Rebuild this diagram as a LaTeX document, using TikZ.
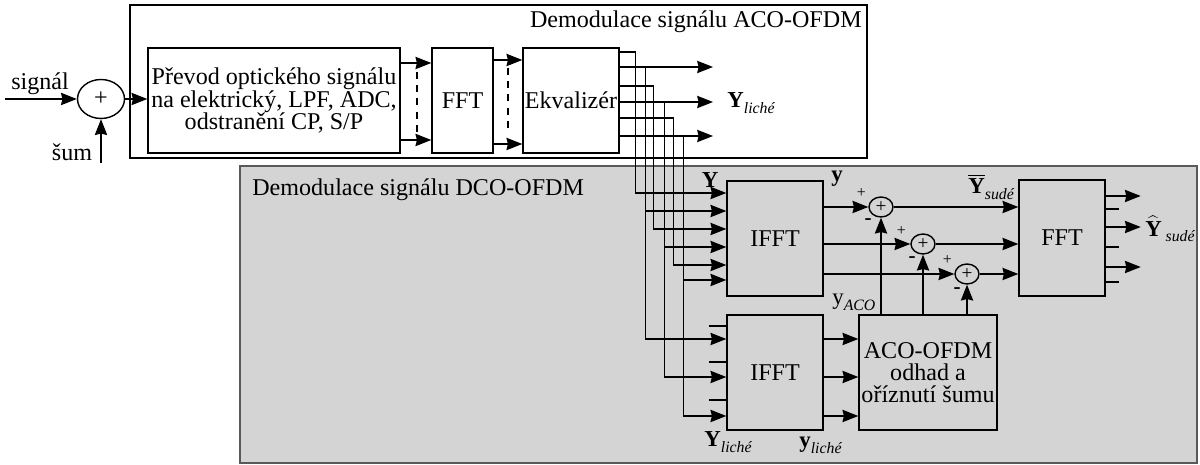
\documentclass[tikz,border=0pt]{standalone}
\usepackage{fontspec}
\setmainfont{Liberation Serif}
\usetikzlibrary{arrows.meta, positioning, shapes.geometric}
\definecolor{panelgray}{RGB}{212,212,212}
\newcommand{\subtxt}[1]{\raisebox{-0.55ex}{\fontsize{9}{9}\selectfont\itshape #1}}

\begin{document}
\begin{tikzpicture}[
    x=0.02cm, y=-0.02cm,
    font=\fontsize{13.7}{12.6}\selectfont,
    block/.style={rectangle, draw, line width=0.8pt, fill=#1, align=center, inner sep=1pt},
    block/.default=white,
    panel/.style={rectangle, draw=#1, line width=0.8pt, inner sep=0pt},
    sumnode/.style={ellipse, draw, line width=0.8pt, fill=#1, inner sep=0pt},
    arrow/.style={-{Stealth[length=9pt, width=7pt, inset=0.8pt]}, line width=0.8pt},
    wire/.style={line width=0.8pt},
    dline/.style={line width=0.8pt, dash pattern=on 4pt off 3.5pt},
    lbl/.style={inner sep=0pt, font=\fontsize{13}{13}\selectfont},
    txt/.style={inner sep=0pt},
    sign/.style={inner sep=0pt, font=\fontsize{9}{9}\selectfont},
    minus/.style={inner sep=0pt, font=\fontsize{12}{12}\selectfont\bfseries}
]
\useasboundingbox (0,0) rectangle (1200,465);

% Frames
\node[panel=black, fill=white, minimum width=14.74cm, minimum height=3.06cm] (acofr) at (498.5,81.5) {};
\node[panel=gray!70!black, fill=panelgray, minimum width=19.14cm, minimum height=5.94cm] (dcofr) at (718.5,314.5) {};
\node[txt, anchor=east] (acott) at (862,22) {Demodulace signálu ACO-OFDM};
\node[txt, anchor=west] (dcott) at (252,190) {Demodulace signálu DCO-OFDM};

% ACO-OFDM receiver
\node[sumnode=white, minimum width=0.94cm, minimum height=0.78cm] (sum) at (101,99) {+};
\node[block, minimum width=5.04cm, minimum height=2.1cm] (conv) at (274,100.5) {Převod optického signálu\\na elektrický, LPF, ADC,\\odstranění CP, S/P};
\node[block, minimum width=1.22cm, minimum height=2.1cm] (fft) at (462.5,100.5) {FFT};
\node[block, minimum width=1.92cm, minimum height=2.1cm] (ekv) at (571,100.5) {Ekvalizér};

% DCO-OFDM receiver
\node[block=panelgray, minimum width=1.92cm, minimum height=2.3cm] (ifftA) at (775,238.5) {IFFT};
\node[block=panelgray, minimum width=1.92cm, minimum height=2.3cm] (ifftB) at (775,372.5) {IFFT};
\node[block=panelgray, minimum width=2.76cm, minimum height=2.3cm] (est) at (928,372.5) {ACO-OFDM\\odhad a\\oříznutí šumu};
\node[block=panelgray, minimum width=1.72cm, minimum height=2.32cm] (fftB) at (1062,238) {FFT};
\node[sumnode=panelgray, minimum width=0.48cm, minimum height=0.4cm, font=\fontsize{11}{11}\selectfont] (s1) at (881,207) {+};
\node[sumnode=panelgray, minimum width=0.48cm, minimum height=0.4cm, font=\fontsize{11}{11}\selectfont] (s2) at (923,244) {+};
\node[sumnode=panelgray, minimum width=0.48cm, minimum height=0.4cm, font=\fontsize{11}{11}\selectfont] (s3) at (967,274) {+};

% input
\coordinate (sigin) at (5,99);
\coordinate (noisein) at (101,163);
\draw[arrow] (sigin) -- (sum.west);
\draw[arrow] (noisein) -- (sum.south);
\node[txt] (lsig) at (40,84) {signál};
\node[txt] (lnoise) at (72,152) {šum};

\draw[arrow] (sum.east) -- (sum.east -| conv.west);
\draw[arrow] (conv.east |- 0,63) -- (fft.west |- 0,63);
\draw[arrow] (conv.east |- 0,140) -- (fft.west |- 0,140);
\draw[dline] (417,72) -- (417,134);
\draw[arrow] (fft.east |- 0,60) -- (ekv.west |- 0,60);
\draw[arrow] (fft.east |- 0,144) -- (ekv.west |- 0,144);
\draw[dline] (508,68) -- (508,132);

% odd subcarriers
\coordinate (yo1) at (713,67);
\coordinate (yo2) at (713,102);
\coordinate (yo3) at (713,136);
\draw[arrow] (ekv.east |- yo1) -- (yo1);
\draw[arrow] (ekv.east |- yo2) -- (yo2);
\draw[arrow] (ekv.east |- yo3) -- (yo3);
\node[lbl, anchor=west] (lYodd) at (727,103) {\textbf{Y}\subtxt{liché}};

% all subcarriers into the DCO-OFDM branch
\draw[arrow] (ekv.east |- 0,52) -- ++(16,0) |- (ifftA.west |- 0,193);
\draw[arrow] (ekv.east |- yo1) ++(26,0) |- (ifftA.west |- 0,211);
\draw[arrow] (ekv.east |- 0,86) -- ++(34,0) |- (ifftA.west |- 0,229);
\draw[arrow] (ekv.east |- yo2) ++(45,0) |- (ifftA.west |- 0,247);
\draw[arrow] (ekv.east |- 0,118) -- ++(54,0) |- (ifftA.west |- 0,265);
\draw[arrow] (ekv.east |- yo3) ++(64,0) |- (ifftA.west |- 0,280);
\draw[arrow] (ekv.east |- yo1) ++(26,0) |- (ifftB.west |- 0,339);
\draw[arrow] (ekv.east |- yo2) ++(45,0) |- (ifftB.west |- 0,377);
\draw[arrow] (ekv.east |- yo3) ++(64,0) |- (ifftB.west |- 0,416);
\draw[wire] (ifftB.west |- 0,326) -- ++(-17,0);
\draw[wire] (ifftB.west |- 0,362) -- ++(-17,0);
\draw[wire] (ifftB.west |- 0,400) -- ++(-17,0);

% clipping noise removal
\draw[arrow] (ifftA.east |- s1) -- (s1);
\draw[arrow] (ifftA.east |- s2) -- (s2);
\draw[arrow] (ifftA.east |- s3) -- (s3);
\draw[arrow] (ifftB.east |- 0,339) -- (est.west |- 0,339);
\draw[arrow] (ifftB.east |- 0,377) -- (est.west |- 0,377);
\draw[arrow] (ifftB.east |- 0,416) -- (est.west |- 0,416);
\draw[arrow] (est.north -| s1) -- (s1);
\draw[arrow] (est.north -| s2) -- (s2);
\draw[arrow] (est.north -| s3) -- (s3);
\draw[arrow] (s1) -- (s1 -| fftB.west);
\draw[arrow] (s2) -- (s2 -| fftB.west);
\draw[arrow] (s3) -- (s3 -| fftB.west);
\node[sign] (p1) at ([shift={(-7,-14)}]s1.west) {+};
\node[sign] (p2) at ([shift={(-9,-13)}]s2.west) {+};
\node[sign] (p3) at ([shift={(-7,-14)}]s3.west) {+};
\node[minus] (m1) at ([shift={(-13,4)}]s1.south) {-};
\node[minus] (m2) at ([shift={(-11,5)}]s2.south) {-};
\node[minus] (m3) at ([shift={(-10,6)}]s3.south) {-};

% even subcarriers out
\draw[arrow] (fftB.east |- 0,196) -- ++(35,0);
\draw[arrow] (fftB.east |- 0,227) -- ++(35,0);
\draw[arrow] (fftB.east |- 0,267) -- ++(35,0);
\draw[wire] (fftB.east |- 0,209) -- ++(13,0);
\draw[wire] (fftB.east |- 0,247) -- ++(13,0);
\draw[wire] (fftB.east |- 0,282) -- ++(13,0);

% labels
\node[lbl] (lY) at (710,180) {\textbf{Y}};
\node[lbl] (ly) at (837,179) {\textbf{y}};
\node[lbl, anchor=west] (lYbar) at (968,187) {$\overline{\hbox{\textbf{Y}}}$\subtxt{sudé}};
\node[lbl, anchor=west] (lYhat) at (1145,229) {$\widehat{\hbox{\textbf{Y}}}$\,\subtxt{sudé}};
\node[lbl, anchor=west] (lyaco) at (832,302) {y\subtxt{ACO}};
\node[lbl, anchor=west] (lYliche) at (704,442) {\textbf{Y}\subtxt{liché}};
\node[lbl, anchor=west] (lyliche) at (799,445) {\textbf{y}\subtxt{liché}};
\end{tikzpicture}
\end{document}
